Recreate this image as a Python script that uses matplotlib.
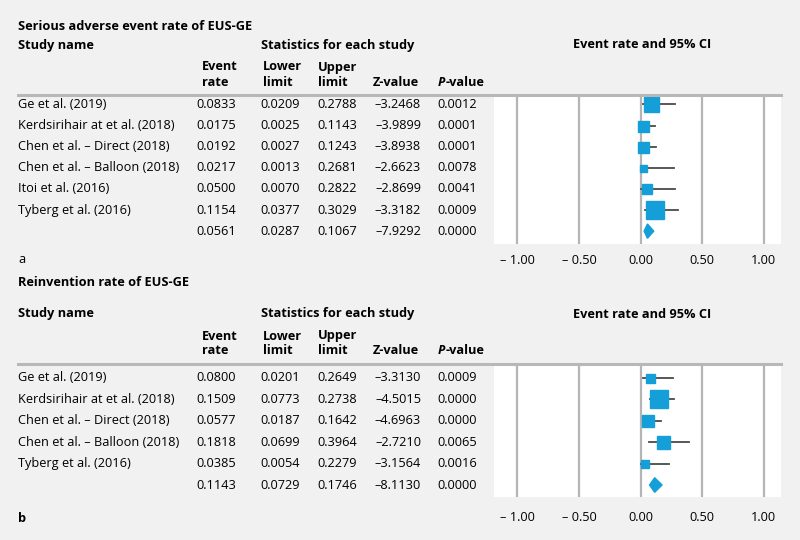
import matplotlib.pyplot as plt
from matplotlib.transforms import blended_transform_factory
from matplotlib.patches import Polygon

plt.rcParams['font.family'] = ['Open Sans', 'DejaVu Sans']

# panel a: serious adverse events
studies_a = ["Ge et al. (2019)", "Kerdsirihair at et al. (2018)", "Chen et al. \u2013 Direct (2018)",
             "Chen et al. \u2013 Balloon (2018)", "Itoi et al. (2016)", "Tyberg et al. (2016)"]
rate_a = [0.0833, 0.0175, 0.0192, 0.0217, 0.0500, 0.1154]
lower_a = [0.0209, 0.0025, 0.0027, 0.0013, 0.0070, 0.0377]
upper_a = [0.2788, 0.1143, 0.1243, 0.2681, 0.2822, 0.3029]
z_a = [-3.2468, -3.9899, -3.8938, -2.6623, -2.8699, -3.3182]
p_a = [0.0012, 0.0001, 0.0001, 0.0078, 0.0041, 0.0009]
weight_a = [15, 11, 11, 7, 10, 18]
pooled_a = [0.0561, 0.0287, 0.1067, -7.9292, 0.0000]

# panel b: reintervention
studies_b = ["Ge et al. (2019)", "Kerdsirihair at et al. (2018)", "Chen et al. \u2013 Direct (2018)",
             "Chen et al. \u2013 Balloon (2018)", "Tyberg et al. (2016)"]
rate_b = [0.0800, 0.1509, 0.0577, 0.1818, 0.0385]
lower_b = [0.0201, 0.0773, 0.0187, 0.0699, 0.0054]
upper_b = [0.2649, 0.2738, 0.1642, 0.3964, 0.2279]
z_b = [-3.3130, -4.5015, -4.6963, -2.7210, -3.1564]
p_b = [0.0009, 0.0000, 0.0000, 0.0065, 0.0016]
weight_b = [9, 18, 12, 13, 8]
pooled_b = [0.1143, 0.0729, 0.1746, -8.1130, 0.0000]

ticks = [-1.0, -0.5, 0.0, 0.5, 1.0]
tick_labels = ["\u2013 1.00", "\u2013 0.50", "0.00", "0.50", "1.00"]

W, H = 800, 540
blue = "#159fd8"
bg = "#f1f1f1"
fs = 9.2

fig = plt.figure(figsize=(8, 5.4), dpi=100, facecolor=bg)


def fy(y):
    return 1 - y / H


def fmt(v):
    s = "%.4f" % abs(v)
    return ("\u2013" + s) if v < 0 else s


def panel(title, letter, studies, rate, lower, upper, z, p, weight, pooled,
          top, bottom, pad_top, pad_bot, title_off, letter_off, letter_w, tick_pad):
    ax = fig.add_axes([494 / W, fy(bottom), (781 - 494) / W, (bottom - top) / H])
    n = len(studies)
    ax.set_xlim(-1.19, 1.14)
    ax.set_ylim(n + pad_bot, -pad_top)
    ax.set_facecolor("white")
    for s in ax.spines.values():
        s.set_visible(False)
    for t in ticks:
        ax.axvline(t, color="#b5b5b5", lw=1.6, zorder=1)
    ax.set_xticks(ticks)
    ax.set_xticklabels(tick_labels, fontsize=fs)
    ax.tick_params(axis="x", length=0, pad=tick_pad)
    ax.set_yticks([])

    for i in range(n):
        ax.plot([lower[i], upper[i]], [i, i], color="#4a4a4a", lw=1.3, zorder=2)
        ax.plot(rate[i], i, marker="s", ms=weight[i] * 0.72, color=blue, mec=blue, zorder=3)
    r, lo, hi = pooled[0], pooled[1], pooled[2]
    ax.add_patch(Polygon([[lo, n], [r, n - 0.34], [hi, n], [r, n + 0.34]],
                         closed=True, color=blue, zorder=3))

    # table, numbers right aligned in each column
    tr = blended_transform_factory(fig.transFigure, ax.transData)
    cols = [236 / W, 300 / W, 357 / W, 421 / W, 477 / W]
    for i in range(n):
        fig.text(18 / W, i, studies[i], transform=tr, va="center", fontsize=fs)
        vals = [rate[i], lower[i], upper[i], z[i], p[i]]
        for c, v in zip(cols, vals):
            fig.text(c, i, fmt(v), transform=tr, va="center", ha="right", fontsize=fs)
    for c, v in zip(cols, pooled):
        fig.text(c, n, fmt(v), transform=tr, va="center", ha="right", fontsize=fs)

    # header
    fig.text(18 / W, fy(top - title_off), title, fontsize=fs, fontweight="bold", va="center")
    fig.text(18 / W, fy(top - 50), "Study name", fontsize=fs, fontweight="bold", va="center")
    fig.text(338 / W, fy(top - 50), "Statistics for each study", fontsize=fs, fontweight="bold",
             va="center", ha="center")
    fig.text(642 / W, fy(top - 50), "Event rate and 95% CI", fontsize=fs, fontweight="bold",
             va="center", ha="center")
    hdr = [(202, "Event", "rate"), (263, "Lower", "limit"), (318, "Upper", "limit")]
    for x, l1, l2 in hdr:
        fig.text(x / W, fy(top - 28), l1, fontsize=fs, fontweight="bold", va="center")
        fig.text(x / W, fy(top - 13), l2, fontsize=fs, fontweight="bold", va="center")
    fig.text(373 / W, fy(top - 13), "Z-value", fontsize=fs, fontweight="bold", va="center")
    fig.text(438 / W, fy(top - 13), "P", fontsize=fs, fontweight="bold", style="italic", va="center")
    fig.text(446 / W, fy(top - 13), "-value", fontsize=fs, fontweight="bold", va="center")
    fig.add_artist(plt.Line2D([18 / W, 781 / W], [fy(top), fy(top)], color="#b8b8b8", lw=2.2))
    fig.text(18 / W, fy(bottom + letter_off), letter, fontsize=fs, fontweight=letter_w, va="center")


panel("Serious adverse event rate of EUS-GE", "a", studies_a, rate_a, lower_a, upper_a, z_a, p_a,
      weight_a, pooled_a, 95, 244, 0.45, 0.61, 68, 16, "normal", 7)
panel("Reinvention rate of EUS-GE", "b", studies_b, rate_b, lower_b, upper_b, z_b, p_b,
      weight_b, pooled_b, 364, 497, 0.65, 0.56, 82, 21, "bold", 10)

fig.savefig("out.png", dpi=100, facecolor=bg)
